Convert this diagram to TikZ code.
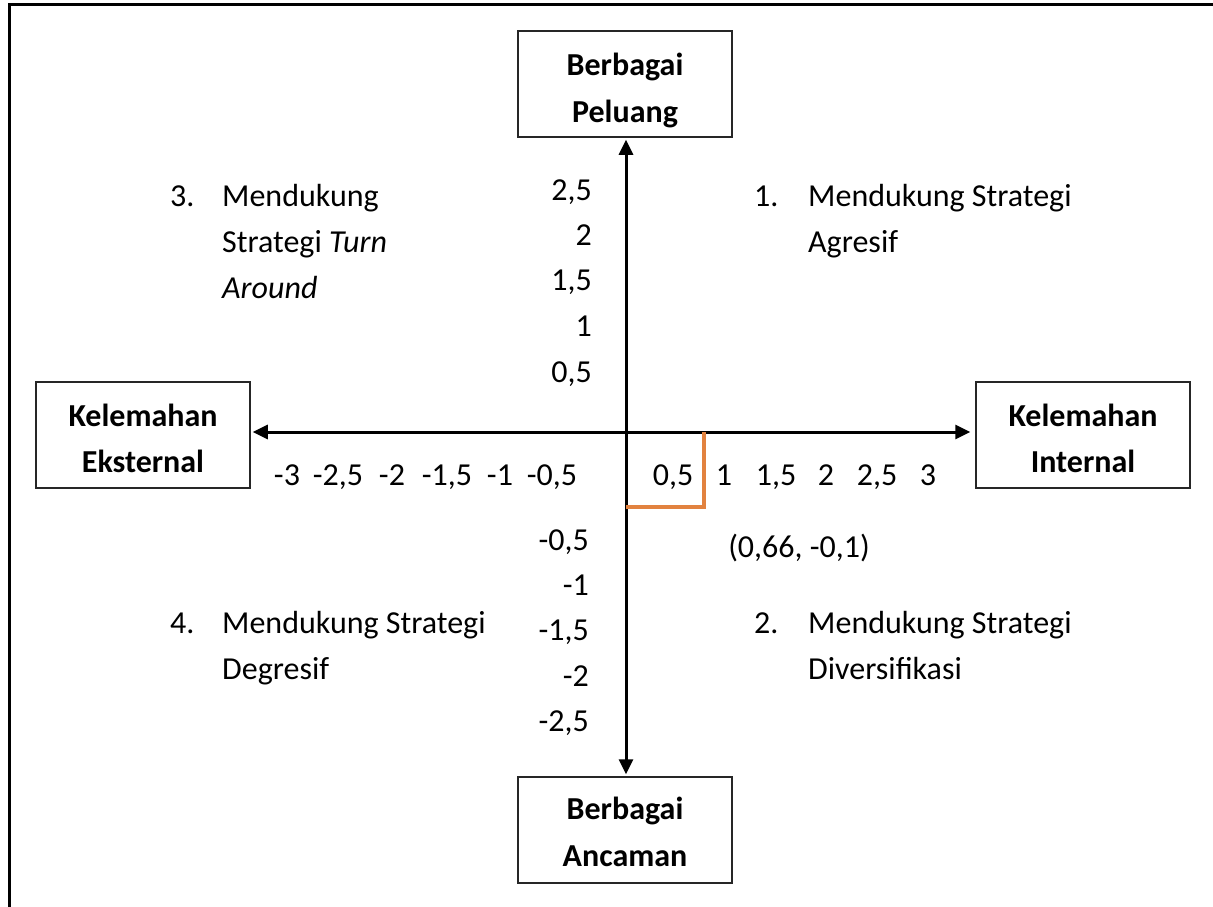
\documentclass[tikz,border=0pt]{standalone}
\usepackage{fontspec}
\setmainfont{Carlito}
\usetikzlibrary{arrows.meta}
\definecolor{orangeline}{HTML}{E2823F}
\tikzset{
  pole/.style={draw=black!85, line width=1.5pt, minimum width=214pt, minimum height=106pt, inner sep=0pt},
  poletext/.style={font=\bfseries\fontsize{32}{46}\selectfont, inner sep=0pt, anchor=base},
  axis/.style={line width=3pt, {Triangle[length=15pt,width=14pt]}-{Triangle[length=15pt,width=14pt]}},
  tick/.style={font=\fontsize{32}{46}\selectfont, inner sep=0pt},
  quad/.style={font=\fontsize{32}{46}\selectfont, inner sep=0pt, anchor=base west},
  frameline/.style={line width=3pt},
  marker/.style={draw=orangeline, line width=4pt}
}
\begin{document}
\begin{tikzpicture}[x=1pt,y=-1pt]
\useasboundingbox (0,0) rectangle (1213,907);
\draw[frameline] (9,907) -- (9,5) -- (1213,5);

\coordinate (O) at (626,432);
\node[pole] (top) at (625,84) {};
\node[pole] (bot) at (625,830) {};
\node[pole] (left) at (143,435) {};
\node[pole] (right) at (1083,435) {};

\node[poletext] (top1) at (625,75) {Berbagai};
\node[poletext] (top2) at (625,122) {Peluang};
\node[poletext] (bot1) at (625,819) {Berbagai};
\node[poletext] (bot2) at (625,866) {Ancaman};
\node[poletext] (left1) at (143,426) {Kelemahan};
\node[poletext] (left2) at (143,472) {Eksternal};
\node[poletext] (right1) at (1083,426) {Kelemahan};
\node[poletext] (right2) at (1083,472) {Internal};

\draw[axis, shorten <=2pt, shorten >=2pt] (top.south -| O) -- (bot.north -| O);
\draw[axis, shorten <=2pt, shorten >=5pt] (left.east |- O) -- (right.west |- O);

% x-axis ticks
\node[tick, anchor=base] (xm30) at (287,485) {-3};
\node[tick, anchor=base] (xm25) at (338,485) {-2,5};
\node[tick, anchor=base] (xm20) at (392,485) {-2};
\node[tick, anchor=base] (xm15) at (447,485) {-1,5};
\node[tick, anchor=base] (xm10) at (500,485) {-1};
\node[tick, anchor=base] (xm05) at (552,485) {-0,5};
\node[tick, anchor=base] (xp05) at (673,485) {0,5};
\node[tick, anchor=base] (xp10) at (724,485) {1};
\node[tick, anchor=base] (xp15) at (776,485) {1,5};
\node[tick, anchor=base] (xp20) at (826,485) {2};
\node[tick, anchor=base] (xp25) at (877,485) {2,5};
\node[tick, anchor=base] (xp30) at (928,485) {3};

% y-axis ticks
\node[tick, anchor=base east] (yp25) at (592,200) {2,5};
\node[tick, anchor=base east] (yp20) at (592,245) {2};
\node[tick, anchor=base east] (yp15) at (592,290) {1,5};
\node[tick, anchor=base east] (yp10) at (592,336) {1};
\node[tick, anchor=base east] (yp05) at (592,382) {0,5};
\node[tick, anchor=base east] (ym05) at (589,550) {-0,5};
\node[tick, anchor=base east] (ym10) at (589,595) {-1};
\node[tick, anchor=base east] (ym15) at (589,640) {-1,5};
\node[tick, anchor=base east] (ym20) at (589,686) {-2};
\node[tick, anchor=base east] (ym25) at (589,731) {-2,5};

% point
\coordinate (pa) at (626,507);
\coordinate (pb) at (704,507);
\coordinate (pc) at (704,432);
\draw[marker, line join=miter] (pa) -- (pb) -- (pc);
\node[tick, anchor=base] (pt) at (799,557) {(0,66, -0,1)};

% quadrants
\node[quad] (q3n) at (170,206) {3.};
\node[quad] (q3a) at (222,206) {Mendukung};
\node[quad] (q3b) at (222,252) {Strategi \textit{Turn}};
\node[quad] (q3c) at (222,298) {\textit{Around}};

\node[quad] (q1n) at (754,206) {1.};
\node[quad] (q1a) at (808,206) {Mendukung Strategi};
\node[quad] (q1b) at (808,252) {Agresif};

\node[quad] (q4n) at (170,633) {4.};
\node[quad] (q4a) at (222,633) {Mendukung Strategi};
\node[quad] (q4b) at (222,679) {Degresif};

\node[quad] (q2n) at (754,633) {2.};
\node[quad] (q2a) at (808,633) {Mendukung Strategi};
\node[quad] (q2b) at (808,679) {Diversifikasi};
\end{tikzpicture}
\end{document}
